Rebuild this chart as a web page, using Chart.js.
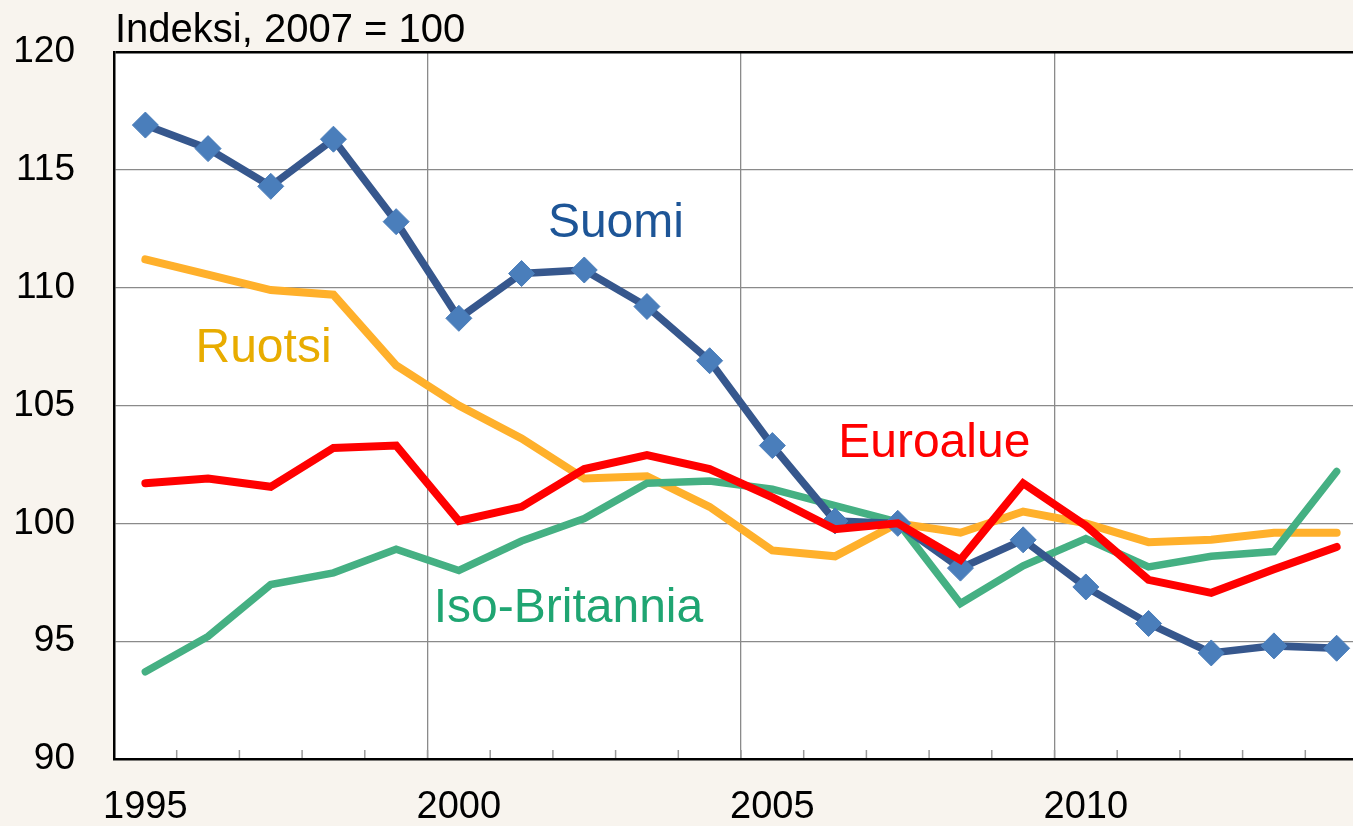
<!DOCTYPE html>
<html>
<head>
<meta charset="utf-8">
<script src="https://cdn.jsdelivr.net/npm/chart.js@4.4.1/dist/chart.umd.min.js"></script>
<style>
html, body { margin: 0; padding: 0; overflow: hidden; background: #f8f4ee; }
canvas { display: block; }
</style>
</head>
<body>
<canvas id="c" width="1382" height="826" style="width:1382px;height:826px"></canvas>
<script>
const years = ['1995','1996','1997','1998','1999','2000','2001','2002','2003','2004','2005','2006','2007','2008','2009','2010','2011','2012','2013','2014'];
const suomi = [116.9,115.9,114.3,116.3,112.8,108.7,110.6,110.75,109.2,106.9,103.3,100.1,100.0,98.1,99.3,97.3,95.75,94.5,94.8,94.7];
const ruotsi = [111.2,110.55,109.9,109.7,106.7,105.0,103.6,101.9,102.0,100.7,98.85,98.6,100.0,99.6,100.5,100.0,99.2,99.3,99.6,99.6];
const euroalue = [101.7,101.9,101.55,103.2,103.3,100.1,100.7,102.3,102.9,102.3,101.1,99.75,100.0,98.45,101.7,99.9,97.6,97.05,98.05,99.0];
const isoBritannia = [93.7,95.2,97.4,97.9,98.9,98.0,99.25,100.2,101.7,101.8,101.45,100.75,100.05,96.6,98.2,99.35,98.15,98.6,98.8,102.2];
const yTickValues = [90,95,100,105,110,115,120];
const yAxisTitle = 'Indeksi, 2007 = 100';
const seriesLabels = [
  { text: 'Suomi', color: '#1d5597', idx: 6.42, value: 112.15 },
  { text: 'Ruotsi', color: '#e8ac00', idx: 0.8, value: 106.85 },
  { text: 'Euroalue', color: '#ff0000', idx: 11.05, value: 102.8 },
  { text: 'Iso-Britannia', color: '#1fa572', idx: 4.6, value: 95.8 }
];

const FONT = '"Liberation Sans", Arial, sans-serif';

const bgPlugin = {
  id: 'bg',
  beforeDraw(chart) {
    const { ctx, chartArea: a } = chart;
    ctx.save();
    ctx.fillStyle = '#f8f4ee';
    ctx.fillRect(0, 0, chart.width, chart.height);
    ctx.fillStyle = '#ffffff';
    ctx.fillRect(a.left, a.top, a.right - a.left, a.bottom - a.top);
    ctx.restore();
  }
};

const minorTicks = {
  id: 'minorTicks',
  afterDraw(chart) {
    const { ctx } = chart;
    const xs = chart.scales.x;
    ctx.save();
    ctx.strokeStyle = '#9a9a9a';
    ctx.lineWidth = 1.5;
    for (let i = 1; i < years.length; i++) {
      const x = (xs.getPixelForValue(i - 1) + xs.getPixelForValue(i)) / 2;
      ctx.beginPath();
      ctx.moveTo(x, xs.top - 1);
      ctx.lineTo(x, xs.top - 9);
      ctx.stroke();
    }
    ctx.restore();
  }
};

const textPlugin = {
  id: 'texts',
  afterDraw(chart) {
    const { ctx } = chart;
    const xs = chart.scales.x, ys = chart.scales.y;
    ctx.save();
    ctx.textBaseline = 'alphabetic';
    ctx.textAlign = 'left';
    ctx.fillStyle = '#000';
    ctx.font = '40px ' + FONT;
    ctx.fillText(yAxisTitle, xs.left + 1, 42);
    ctx.font = '48px ' + FONT;
    seriesLabels.forEach(l => {
      ctx.fillStyle = l.color;
      ctx.fillText(l.text, xs.getPixelForValue(l.idx), ys.getPixelForValue(l.value));
    });
    ctx.restore();
  }
};

new Chart(document.getElementById('c'), {
  type: 'line',
  data: {
    labels: years,
    datasets: [
      { label: 'Euroalue', data: euroalue, borderColor: '#ff0000', borderWidth: 8, pointRadius: 0, order: 0, borderCapStyle: 'round' },
      { label: 'Suomi', data: suomi, borderColor: '#36578d', borderWidth: 7.5, pointStyle: 'rectRot', pointRadius: 13,
        pointBackgroundColor: '#4a7ebb', pointBorderColor: '#4a7ebb', pointBorderWidth: 1, order: 1 },
      { label: 'Iso-Britannia', data: isoBritannia, borderColor: '#45b083', borderWidth: 7.5, pointRadius: 0, order: 2, borderCapStyle: 'round' },
      { label: 'Ruotsi', data: ruotsi, borderColor: '#ffb02b', borderWidth: 8, pointRadius: 0, order: 3, borderCapStyle: 'round' }
    ]
  },
  options: {
    responsive: false,
    maintainAspectRatio: false,
    devicePixelRatio: 1,
    animation: false,
    layout: { padding: { left: 0, top: 52, right: 2, bottom: 0 } },
    plugins: { legend: { display: false }, tooltip: { enabled: false }, title: { display: false } },
    elements: { line: { tension: 0 } },
    scales: {
      x: {
        type: 'category',
        offset: true,
        afterFit(s) { s.height = 67; s.paddingLeft = 0; s.paddingRight = 0; },
        grid: {
          offset: true,
          drawTicks: false,
          color: c => (c.index % 5 === 0 ? '#8a8a8a' : 'rgba(0,0,0,0)'),
          lineWidth: 1.3
        },
        border: { display: true, color: '#000', width: 2.5 },
        ticks: {
          autoSkip: false,
          maxRotation: 0,
          padding: 26,
          color: '#000',
          font: { family: FONT, size: 38 },
          callback: function (v, i) { const y = years[i]; return (Number(y) % 5 === 0) ? y : ''; }
        }
      },
      y: {
        min: 90,
        max: 120,
        afterFit(s) { s.width = 114; s.paddingTop = 0; s.paddingBottom = 0; },
        afterBuildTicks(s) { s.ticks = yTickValues.map(v => ({ value: v })); },
        grid: {
          drawTicks: false,
          color: c => (c.tick && c.tick.value === 120 ? '#000' : '#8a8a8a'),
          lineWidth: c => (c.tick && c.tick.value === 120 ? 2.5 : 1.3)
        },
        border: { display: true, color: '#000', width: 2.5 },
        ticks: {
          padding: 39,
          color: '#000',
          font: { family: FONT, size: 37 },
          callback: v => String(v)
        }
      }
    }
  },
  plugins: [bgPlugin, minorTicks, textPlugin]
});
</script>
</body>
</html>
